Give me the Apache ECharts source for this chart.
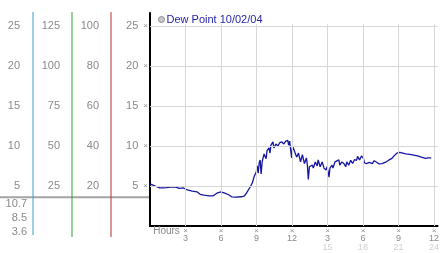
<!DOCTYPE html>
<html><head><meta charset="utf-8">
<script src="https://cdn.jsdelivr.net/npm/echarts@6/dist/echarts.min.js"></script>
<style>html,body{margin:0;padding:0;background:#fff}#c{width:442px;height:253px}</style>
</head><body><div id="c"></div>
<script>
const seriesName = 'Dew Point 10/02/04';
const hours = [0,0.25,0.58,0.83,1.08,1.41,1.83,2.16,2.49,2.83,
3.16,3.57,3.99,4.24,4.57,4.99,5.32,5.65,5.99,6.32,
6.65,6.9,7.23,7.73,7.98,8.15,8.31,8.48,8.65,8.81,
8.98,9.06,9.14,9.23,9.31,9.39,9.48,9.64,9.81,9.89,
10.06,10.14,10.22,10.39,10.47,10.64,10.81,10.97,11.14,11.31,
11.47,11.64,11.72,11.8,11.97,12.05,12.22,12.39,12.55,12.72,
12.88,13.05,13.22,13.3,13.38,13.47,13.55,13.72,13.8,13.97,
14.13,14.21,14.38,14.55,14.71,14.88,14.96,15.05,15.13,15.21,
15.38,15.46,15.63,15.79,15.96,16.04,16.21,16.38,16.54,16.63,
16.79,16.96,17.12,17.29,17.46,17.54,17.71,17.87,18.04,18.12,
18.29,18.54,18.79,18.95,19.12,19.37,19.62,19.95,20.2,20.45,
20.62,20.86,21.11,21.36,21.61,21.95,22.28,22.61,22.94,23.28,
23.52,23.77];
const dewPoint = [5.25,5.1,4.9,4.75,4.75,4.8,4.9,4.85,4.7,4.75,
4.5,4.35,4.25,3.95,3.85,3.75,3.75,4.1,4.25,4.1,
3.9,3.65,3.6,3.65,3.75,4.1,4.5,4.9,5.4,6.2,
6.75,7.5,6.6,7.9,8.25,6.5,8.0,9.0,8.4,9.4,
9.75,9.1,10.1,10.5,9.75,10.25,10.0,10.4,10.5,10.25,
10.6,10.7,10.1,10.6,8.5,10.0,9.3,8.6,9.1,8.0,
8.9,7.8,8.5,7.6,5.8,7.4,7.25,7.6,7.25,8.0,
7.5,8.25,7.4,8.0,7.2,7.0,7.4,6.8,6.1,7.25,
7.6,7.25,8.0,7.8,8.25,7.6,8.0,7.8,7.4,8.0,
7.6,8.2,7.8,8.3,8.2,8.7,8.25,8.75,8.45,7.9,
7.8,7.95,7.8,8.15,8.0,7.75,7.8,8.0,8.25,8.45,
8.75,9.1,9.2,9.1,9.0,8.95,8.85,8.75,8.6,8.45,
8.5,8.5];
const hourTicks = [3,6,9,12,15,18,21,24];
const hourLabels12 = ['3','6','9','12','3','6','9','12'];
const hourLabels24 = ['','','','','15','18','21','24'];
const yTicks = [5,10,15,20,25];
const colA = [5,10,15,20,25];
const colB = [25,50,75,100,125];
const colC = [20,40,60,80,100];

const FONT = 'Liberation Sans';
const yMax = 26.6;
const fB = colB[0]/yTicks[0], fC = colC[0]/yTicks[0], fA = colA[0]/yTicks[0];
const pts = hours.map((h,i)=>[h, dewPoint[i]]);
const vMax = Math.max(...dewPoint), vMin = Math.min(...dewPoint), vLast = dewPoint[dewPoint.length-1];

function extraAxis(list, f, offset, margin){
  return {type:'value', position:'left', offset:offset, gridIndex:0, min:0, max:yMax*f, interval:list[1]-list[0],
    axisLine:{show:false}, axisTick:{show:false}, splitLine:{show:false},
    axisLabel:{margin:margin, color:'#8a8a8a', fontSize:11, fontFamily:FONT,
      formatter:v=>list.includes(v)?String(v):''}};
}

const chart = echarts.init(document.getElementById('c'), null, {renderer:'canvas'});
chart.setOption({
  animation:false,
  textStyle:{fontFamily:FONT},
  grid:{left:150, right:0, top:13, bottom:27, containLabel:false},
  legend:{left:158, top:14, padding:0, itemWidth:6, itemHeight:6, icon:'circle', selectedMode:false,
    data:[{name:seriesName, icon:'circle', itemStyle:{color:'#c8c8c8', borderColor:'#8c8c8c', borderWidth:1}}],
    textStyle:{color:'#2626a8', fontSize:11, fontFamily:FONT, padding:[0,0,0,-3]}},
  xAxis:{type:'value', min:0, max:24.3, interval:3,
    axisLine:{show:true, onZero:false, lineStyle:{color:'#000', width:2}},
    axisTick:{show:false}, splitLine:{show:false},
    axisLabel:{margin:2, showMaxLabel:false,
      formatter:v=>{
        if(v===0) return '{h|Hours}';
        const i = hourTicks.indexOf(v);
        if(i<0) return '';
        return '{t|×}\n{a|'+hourLabels12[i]+'}\n{b|'+(hourLabels24[i]||' ')+'}';
      },
      rich:{
        h:{fontSize:10, color:'#8a8a8a', lineHeight:7, padding:[0,0,0,33], fontFamily:FONT},
        t:{fontSize:8, color:'#909090', lineHeight:6, fontFamily:FONT},
        a:{fontSize:9, color:'#8a8a8a', lineHeight:9, fontFamily:FONT},
        b:{fontSize:9, color:'#cfcfcf', lineHeight:9, fontFamily:FONT}
      }}},
  yAxis:[
    {type:'value', min:0, max:yMax, interval:5,
      axisLine:{show:true, onZero:false, lineStyle:{color:'#000', width:2}},
      axisTick:{show:false}, splitLine:{show:false},
      axisLabel:{margin:2, showMaxLabel:false,
        formatter:v=>yTicks.includes(v)?'{v|'+v+'}{t|×}':'',
        rich:{v:{fontSize:11, color:'#8a8a8a', fontFamily:FONT},
              t:{fontSize:8, color:'#909090', padding:[0,0,0,5], fontFamily:FONT}}}},
    extraAxis(colC, fC, 39, 12),
    extraAxis(colB, fB, 78, 12),
    extraAxis(colA, fA, 117, 13)
  ],
  series:[
    {type:'line', name:'grid', z:1, data:[], silent:true,
      markLine:{silent:true, symbol:['none','none'], label:{show:false}, animation:false,
        lineStyle:{color:'#d6d6d6', width:1, type:'solid'},
        data: yTicks.map(v=>({yAxis:v})).concat(hourTicks.map(h=>[{coord:[h,0]},{coord:[h,25.2]}]))}},
    {type:'line', name:seriesName, z:3, data:pts, showSymbol:false, symbol:'none',
      lineStyle:{color:'#1616a0', width:1.3}, itemStyle:{color:'#1616a0'}}
  ]
});

const yMinPx = chart.convertToPixel({yAxisIndex:0}, vMin);
const colX = [33,72,111];
const colColors = ['#3a9fd0','#35a035','#b83030'];
const g = [];
g.push({type:'line', shape:{x1:0, y1:yMinPx, x2:149, y2:yMinPx}, style:{stroke:'#a4a4a4', lineWidth:2}, z:5});
colX.forEach((x,i)=>g.push({type:'line', shape:{x1:x, y1:12, x2:x, y2:[235,237,237][i]}, style:{stroke:colColors[i], lineWidth:1}, z:6}));
[[vMax,204],[vLast,218],[vMin,232]].forEach(([v,y])=>g.push({type:'text', x:27, y:y,
  style:{text:v.toFixed(1), fill:'#8a8a8a', font:'11px "Liberation Sans"', align:'right', verticalAlign:'middle'}, z:6}));
chart.setOption({graphic:g});
</script></body></html>
